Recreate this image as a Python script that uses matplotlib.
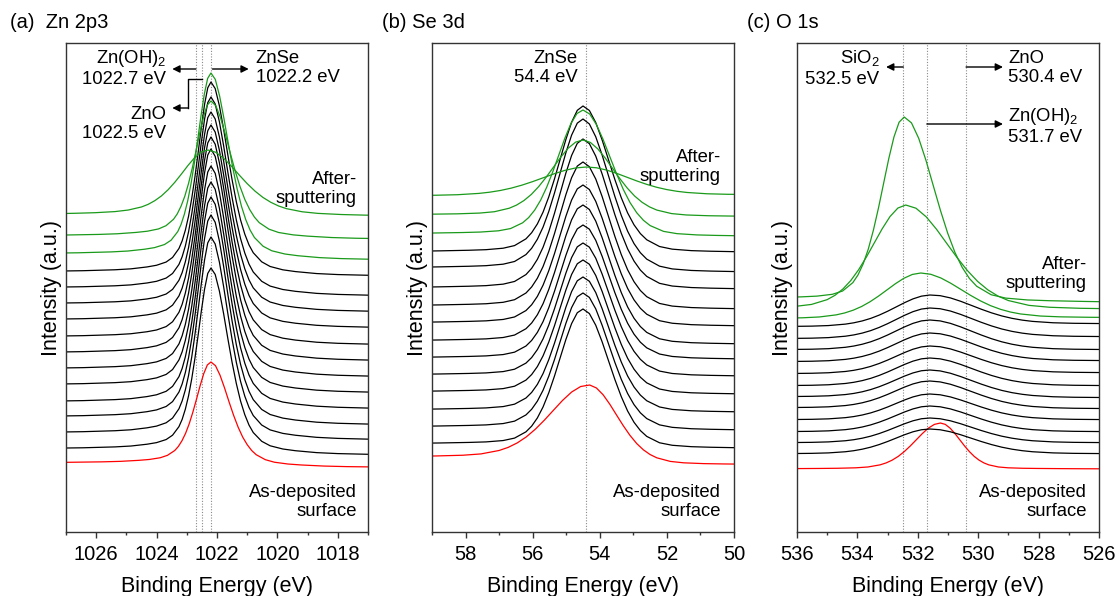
import numpy as np
import matplotlib
matplotlib.use('Agg')
import matplotlib.pyplot as plt

plt.rcParams['font.family'] = ['Liberation Sans', 'DejaVu Sans']
plt.rcParams['mathtext.default'] = 'regular'

# peak shape: height (fraction of the peak) against
# distance from the peak top, in half widths at half maximum
HALF_U = [0, 0.2, 0.4, 0.6, 0.8, 1.0, 1.2, 1.4, 1.6, 1.8, 2.0, 2.4, 2.8, 3.4, 4, 5, 6, 8, 10, 14, 20]
SHAPE_ZN = [1, 0.968, 0.88, 0.76, 0.627, 0.5, 0.387, 0.293, 0.22, 0.164, 0.124,
            0.077, 0.053, 0.036, 0.027, 0.017, 0.012, 0.007, 0.0045, 0.0023, 0.001]
SHAPE_SE_O = [1, 0.97, 0.888, 0.77, 0.635, 0.5, 0.377, 0.273, 0.192, 0.132, 0.09,
              0.044, 0.026, 0.016, 0.012, 0.008, 0.005, 0.003, 0.002, 0.001, 0.0005]

# 16 spectra from the as-deposited surface (bottom) up to after sputtering (top)
KINDS = ['surface'] + ['depth'] * 12 + ['after'] * 3
COLORS = {'surface': '#ff0000', 'depth': '#000000', 'after': '#1a9a1a'}

# (a) Zn 2p3 : peak position, half widths (eV), baselines and peak top (a.u.)
ZN_CENTER = [1022.2] * 15 + [1022.3]
ZN_HW_L = [0.6] + [0.53] * 12 + [0.55, 0.62, 1.1]
ZN_HW_R = [0.75] + [0.7] * 12 + [0.72, 0.8, 1.3]
ZN_BASE_L = [69, 83, 99, 115, 130, 147, 163, 179, 195, 212, 228, 244, 260, 278, 296, 317]
ZN_BASE_R = [64, 76, 91, 106, 122, 138, 154, 170, 186, 203, 219, 235, 255, 271, 292, 315]
ZN_TOP = [170, 264, 295, 317, 335, 350, 366, 383, 395, 407, 420, 435, 450, 459, 431, 382]

# (b) Se 3d
SE_CENTER = [54.3] + [54.5] * 12 + [54.5, 54.5, 54.4]
SE_HW_L = [1.35] + [0.85] * 12 + [0.9, 1.1, 1.6]
SE_HW_R = [1.0] + [0.95] * 12 + [1.0, 1.1, 1.5]
SE_BASE_L = [75, 88, 105, 122, 140, 157, 174, 191, 209, 226, 244, 264, 280, 298, 317, 336]
SE_BASE_R = [67, 83, 101, 119, 137, 155, 172, 187, 205, 222, 242, 259, 279, 295, 315, 337]
SE_TOP = [147, 223, 239, 255, 272, 289, 307, 327, 347, 370, 393, 413, 426, 422, 392, 365]

# (c) O 1s
O_CENTER = [531.25] + [531.6] * 12 + [531.9, 532.4, 532.45]
O_HW_L = [1.0] + [1.4] * 12 + [1.4, 1.3, 0.85]
O_HW_R = [0.8] + [1.7] * 12 + [1.65, 1.7, 1.2]
O_BASE_L = [63, 78, 89, 100, 112, 124, 135, 146, 158, 170, 182, 193, 205, 213, 223, 233]
O_BASE_R = [63, 78, 89, 100, 112, 123, 134, 146, 159, 171, 182, 195, 208, 214, 222, 229]
O_TOP = [109, 103, 114, 126, 138, 151, 162, 174, 186, 199, 212, 224, 237, 259, 327, 415]

# reference binding energies (dotted lines)
ZN_REFS = [1022.7, 1022.5, 1022.2]
SE_REFS = [54.4]
O_REFS = [532.5, 531.7, 530.4]


def spectrum(center, hw_l, hw_r, base_l, base_r, top, shape):
    u = np.array(HALF_U)
    s = np.array(shape)
    x = np.concatenate([center + hw_l * u[::-1], center - hw_r * u[1:]])
    peak = np.concatenate([s[::-1], s[1:]])
    # shirley type background: step follows the peak area
    w = np.abs(np.gradient(x))
    frac = np.cumsum((peak * w)[::-1])[::-1]
    frac = frac / frac[0]
    bg = base_r + (base_l - base_r) * frac
    i = len(u) - 1
    y = bg + (top - bg[i]) * peak
    return x, y


W, H = 1120, 596
fig = plt.figure(figsize=(W / 100, H / 100), dpi=100)

def make_axes(left_px, xlim, major, minor, refs):
    ax = fig.add_axes([left_px / W, 1 - 532 / H, 302 / W, 489 / H])
    ax.set_xlim(*xlim)
    ax.set_ylim(0, 489)
    ax.set_yticks([])
    ax.set_xticks(major)
    ax.set_xticks(minor, minor=True)
    for r in refs:
        ax.axvline(r, color='#8a8a8a', lw=0.8, ls=(0, (1, 1.5)), zorder=1)
    for sp in ax.spines.values():
        sp.set_color('#333333')
        sp.set_linewidth(1.0)
    ax.tick_params(axis='x', which='major', direction='out', length=4.5, width=1.0,
                   labelsize=14.5, pad=4.5, color='#333333')
    ax.tick_params(axis='x', which='minor', direction='out', length=2.5, width=1.0,
                   color='#333333')
    ax.set_xlabel('Binding Energy (eV)', fontsize=15.5, labelpad=9)
    ax.set_ylabel('Intensity (a.u.)', fontsize=15.5, labelpad=3)
    return ax


def draw(ax, centers, hwl, hwr, bl, br, tops, shape):
    for k in range(len(KINDS)):
        x, y = spectrum(centers[k], hwl[k], hwr[k], bl[k], br[k], tops[k], shape)
        ax.plot(x, y, color=COLORS[KINDS[k]], lw=0.9, zorder=2)


def arrow(ax, x0, x1, y):
    ax.annotate('', xy=(x1, y), xytext=(x0, y),
                arrowprops=dict(arrowstyle='-|>', color='k', lw=1.0,
                                mutation_scale=11, shrinkA=0, shrinkB=0))


FS = 13.3

# (a) Zn 2p3
ax1 = make_axes(66, (1027, 1017), [1026, 1024, 1022, 1020, 1018],
                [1027, 1025, 1023, 1021, 1019, 1017], ZN_REFS)
draw(ax1, ZN_CENTER, ZN_HW_L, ZN_HW_R, ZN_BASE_L, ZN_BASE_R, ZN_TOP, SHAPE_ZN)
ax1.text(1023.68, 464, 'Zn(OH)$_2$\n1022.7 eV', ha='right', va='center', fontsize=FS)
arrow(ax1, 1022.7, 1023.48, 463)
ax1.text(1020.72, 464, 'ZnSe\n1022.2 eV', ha='left', va='center', fontsize=FS)
arrow(ax1, 1022.15, 1020.95, 463)
ax1.plot([1022.5, 1022.95, 1022.95], [453, 453, 424], color='k', lw=1.0)
arrow(ax1, 1022.95, 1023.48, 424)
ax1.text(1023.68, 408, 'ZnO\n1022.5 eV', ha='right', va='center', fontsize=FS)
ax1.text(1017.37, 343, 'After-\nsputtering', ha='right', va='center', fontsize=FS)
ax1.text(1017.37, 30, 'As-deposited\nsurface', ha='right', va='center', fontsize=FS)

# (b) Se 3d
ax2 = make_axes(432, (59, 50), [58, 56, 54, 52, 50], [59, 57, 55, 53, 51], SE_REFS)
draw(ax2, SE_CENTER, SE_HW_L, SE_HW_R, SE_BASE_L, SE_BASE_R, SE_TOP, SHAPE_SE_O)
ax2.text(54.65, 464, 'ZnSe\n54.4 eV', ha='right', va='center', fontsize=FS)
ax2.text(50.39, 365, 'After-\nsputtering', ha='right', va='center', fontsize=FS)
ax2.text(50.39, 30, 'As-deposited\nsurface', ha='right', va='center', fontsize=FS)

# (c) O 1s
ax3 = make_axes(797, (536, 526), [536, 534, 532, 530, 528, 526],
                [535, 533, 531, 529, 527], O_REFS)
draw(ax3, O_CENTER, O_HW_L, O_HW_R, O_BASE_L, O_BASE_R, O_TOP, SHAPE_SE_O)
ax3.text(533.28, 464, 'SiO$_2$\n532.5 eV', ha='right', va='center', fontsize=FS)
arrow(ax3, 532.48, 533.05, 465)
ax3.text(529.01, 464, 'ZnO\n530.4 eV', ha='left', va='center', fontsize=FS)
arrow(ax3, 530.4, 529.18, 465)
ax3.text(529.01, 406, 'Zn(OH)$_2$\n531.7 eV', ha='left', va='center', fontsize=FS)
arrow(ax3, 531.7, 529.18, 408)
ax3.text(526.4, 258, 'After-\nsputtering', ha='right', va='center', fontsize=FS)
ax3.text(526.4, 30, 'As-deposited\nsurface', ha='right', va='center', fontsize=FS)

# panel titles
fig.text(10 / W, 1 - 22 / H, '(a)  Zn 2p3', fontsize=14.5, va='center', ha='left')
fig.text(382 / W, 1 - 22 / H, '(b) Se 3d', fontsize=14.5, va='center', ha='left')
fig.text(747 / W, 1 - 22 / H, '(c) O 1s', fontsize=14.5, va='center', ha='left')

fig.savefig('out.png', dpi=100)
